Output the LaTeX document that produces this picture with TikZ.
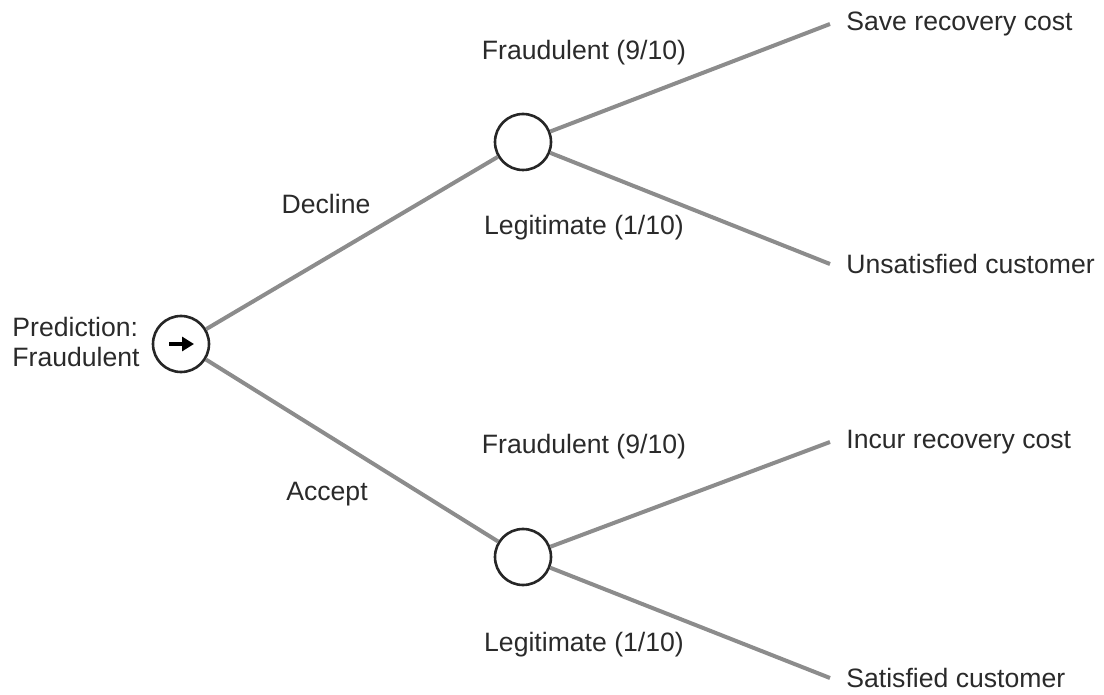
\documentclass[tikz,border=0pt]{standalone}
\usepackage{fontspec}
\setmainfont{Liberation Sans}
\usetikzlibrary{arrows.meta}
\definecolor{branchgray}{HTML}{8C8C8C}
\definecolor{textgray}{HTML}{2A2A2A}
\begin{document}
\begin{tikzpicture}[x=0.5pt, y=-0.5pt,
    every node/.style={font=\fontsize{13.3}{16}\selectfont, text=textgray},
    chance/.style={circle, draw=black!85, line width=1.3pt, minimum size=28pt, inner sep=0pt, fill=white},
    branch/.style={draw=branchgray, line width=2pt},
    leaf/.style={anchor=west, inner xsep=8pt, inner ysep=2pt}]
    \useasboundingbox (0,0) rectangle (1104,695);

    % Decision and chance nodes
    \node[chance] (root) at (181,344) {};
    \node[chance] (up) at (523,142) {};
    \node[chance] (low) at (523,557) {};
    \draw[line width=2pt, -{Triangle[length=6pt,width=7pt]}] ([xshift=-6pt]root.center) -- ([xshift=6.5pt]root.center);

    % Outcomes
    \node[leaf] (save) at (830,24) {Save recovery cost};
    \node[leaf] (unsat) at (830,264) {Unsatisfied customer};
    \node[leaf] (incur) at (830,442) {Incur recovery cost};
    \node[leaf] (sat) at (830,678) {Satisfied customer};

    % Branches
    \draw[branch] (root) -- (up);
    \draw[branch] (root) -- (low);
    \draw[branch] (up) -- (save.west);
    \draw[branch] (up) -- (unsat.west);
    \draw[branch] (low) -- (incur.west);
    \draw[branch] (low) -- (sat.west);

    % Labels
    \node[align=left] (pred) at (76,342) {Prediction:\\[-1pt]Fraudulent};
    \node (decline) at (326,204) {Decline};
    \node (accept) at (327,494) {Accept};
    \node (fraudup) at (584,53) {Fraudulent (9/10)};
    \node (legitup) at (584,228) {Legitimate (1/10)};
    \node (fraudlow) at (584,447) {Fraudulent (9/10)};
    \node (legitlow) at (584,645) {Legitimate (1/10)};
\end{tikzpicture}
\end{document}
